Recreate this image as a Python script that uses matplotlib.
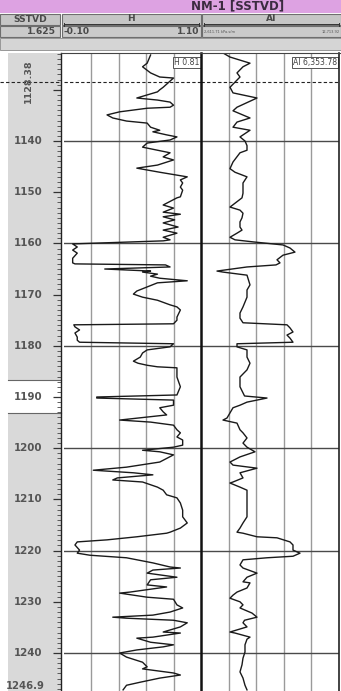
import matplotlib
matplotlib.use("Agg")
import matplotlib.pyplot as plt
from matplotlib.patches import Rectangle

# ---------------- data ----------------
well_name = "NM-1 [SSTVD]"
depth_scale = "1.625"
h_range = (-0.10, 1.10)
ai_range = (2611.71, 12713.92)
ai_unit = "kPa.s/m"
depth_range = (1122.81, 1247.42)
marker_depth = 1128.38
bottom_depth_label = "1246.9"
h_cursor = 0.81
ai_cursor = 6353.78
depth_labels = [1140, 1150, 1160, 1170, 1180, 1190, 1200, 1210, 1220, 1230, 1240]

h_depth = [
    1123.2, 1124.8, 1125.5, 1126.7, 1127.5, 1127.7, 1128.7, 1129.5, 1130.0, 1130.4,
    1131.0, 1131.6, 1132.0, 1132.4, 1133.0, 1133.4, 1133.6, 1134.3, 1134.9, 1135.5,
    1136.1, 1136.5, 1137.3, 1137.9, 1138.2, 1138.8, 1139.2, 1139.8, 1140.4, 1141.2,
    1141.8, 1142.3, 1143.1, 1143.7, 1144.7, 1145.3, 1146.1, 1147.0, 1147.6, 1148.2,
    1149.0, 1149.6, 1150.9, 1151.1, 1152.5, 1153.1, 1153.9, 1154.3, 1154.8, 1155.4,
    1156.0, 1156.8, 1157.4, 1158.0, 1158.8, 1159.3, 1159.5, 1160.1, 1160.7, 1161.3,
    1161.9, 1162.9, 1163.8, 1164.0, 1164.2, 1164.6, 1165.0, 1165.2, 1165.4, 1165.6,
    1166.0, 1166.4, 1166.8, 1167.3, 1167.7, 1168.5, 1169.3, 1169.9, 1170.5, 1171.1,
    1172.0, 1172.4, 1173.0, 1174.4, 1175.0, 1175.7, 1175.9, 1176.3, 1176.9, 1177.5,
    1178.3, 1178.9, 1179.3, 1179.6, 1180.2, 1180.8, 1181.4, 1182.2, 1183.0, 1183.4,
    1183.8, 1184.1, 1184.3, 1186.1, 1188.0, 1189.6, 1190.0, 1190.2, 1190.6, 1191.6,
    1192.1, 1192.9, 1193.5, 1194.5, 1194.9, 1195.5, 1196.4, 1197.0, 1197.8, 1198.4,
    1199.4, 1199.8, 1200.4, 1200.7, 1201.3, 1202.7, 1203.7, 1204.3, 1204.8, 1205.2,
    1205.8, 1206.2, 1206.6, 1207.6, 1208.2, 1209.1, 1209.7, 1210.7, 1212.1, 1213.4,
    1214.6, 1215.6, 1216.4, 1216.6, 1217.3, 1217.9, 1218.3, 1218.9, 1219.9, 1220.5,
    1220.9, 1221.4, 1222.4, 1223.2, 1223.4, 1223.8, 1224.4, 1225.2, 1225.7, 1226.7,
    1227.1, 1228.1, 1228.3, 1229.1, 1229.5, 1230.6, 1231.2, 1232.0, 1232.6, 1233.0,
    1233.2, 1233.6, 1234.1, 1234.9, 1235.9, 1236.1, 1236.9, 1237.1, 1237.9, 1238.4,
    1238.8, 1239.4, 1240.0, 1240.8, 1241.8, 1242.7, 1243.1, 1243.9, 1244.3, 1244.9,
    1245.7, 1246.3, 1247.2,
]
h_value = [
    0.66, 0.63, 0.59, 0.66, 0.74, 0.86, 0.81, 0.77, 0.74, 0.72,
    0.63, 0.54, 0.72, 0.83, 0.86, 0.83, 0.63, 0.39, 0.28, 0.33,
    0.45, 0.63, 0.66, 0.74, 0.68, 0.80, 0.89, 0.83, 0.63, 0.59,
    0.72, 0.83, 0.77, 0.86, 0.72, 0.54, 0.74, 0.98, 0.92, 0.94,
    0.92, 0.94, 0.92, 0.89, 0.77, 0.86, 0.77, 0.92, 0.77, 0.87,
    0.77, 0.90, 0.77, 0.89, 0.77, 0.83, 0.77, -0.02, 0.02, -0.02,
    0.02, -0.02, -0.02, 0.00, 0.79, 0.83, 0.26, 0.45, 0.66, 0.59,
    0.72, 0.66, 0.74, 0.98, 0.72, 0.63, 0.54, 0.51, 0.59, 0.72,
    0.83, 0.89, 0.92, 0.89, 0.89, 0.86, -0.01, 0.00, 0.04, 0.00,
    0.02, 0.02, 0.04, 0.86, 0.83, 0.63, 0.59, 0.57, 0.51, 0.55,
    0.63, 0.72, 0.89, 0.89, 0.92, 0.89, 0.19, 0.19, 0.86, 0.86,
    0.74, 0.77, 0.80, 0.39, 0.66, 0.86, 0.89, 0.92, 0.89, 0.94,
    0.94, 0.86, 0.59, 0.74, 0.86, 0.74, 0.45, 0.16, 0.51, 0.68,
    0.37, 0.33, 0.59, 0.72, 0.77, 0.80, 0.89, 0.92, 0.94, 0.94,
    0.98, 0.92, 0.83, 0.80, 0.54, 0.28, 0.02, 0.00, 0.04, 0.02,
    0.13, 0.45, 0.68, 0.83, 0.92, 0.68, 0.63, 0.89, 0.66, 0.63,
    0.80, 0.48, 0.39, 0.63, 0.86, 0.89, 0.94, 0.83, 0.68, 0.33,
    0.45, 0.86, 0.98, 0.92, 0.77, 0.92, 0.68, 0.54, 0.66, 0.86,
    0.77, 0.54, 0.39, 0.45, 0.59, 0.63, 0.59, 0.86, 0.92, 0.74,
    0.57, 0.45, 0.42,
]

ai_depth = [
    1122.8, 1123.6, 1124.8, 1125.5, 1126.7, 1127.5, 1129.5, 1130.6, 1131.6, 1133.4,
    1134.1, 1135.5, 1136.3, 1137.3, 1137.9, 1139.2, 1140.0, 1140.9, 1141.8, 1142.3,
    1144.1, 1145.4, 1146.1, 1147.0, 1148.2, 1150.2, 1151.1, 1152.9, 1153.5, 1154.1,
    1155.0, 1155.8, 1156.8, 1157.4, 1158.0, 1158.8, 1159.3, 1159.7, 1160.3, 1160.9,
    1161.7, 1162.3, 1163.2, 1163.8, 1164.2, 1164.6, 1165.4, 1165.6, 1166.2, 1168.1,
    1169.1, 1170.5, 1172.4, 1173.6, 1174.6, 1175.5, 1175.9, 1176.5, 1177.3, 1177.9,
    1178.5, 1179.3, 1179.6, 1180.2, 1180.8, 1182.2, 1183.4, 1184.7, 1186.1, 1188.0,
    1189.2, 1189.8, 1190.2, 1191.0, 1191.6, 1192.1, 1193.1, 1194.1, 1194.5, 1195.1,
    1196.4, 1197.0, 1198.0, 1199.0, 1199.8, 1200.7, 1201.7, 1202.7, 1203.3, 1203.9,
    1204.8, 1205.8, 1206.6, 1206.8, 1207.6, 1208.2, 1209.5, 1211.5, 1213.4, 1214.6,
    1215.6, 1216.4, 1216.6, 1217.3, 1217.5, 1218.3, 1218.9, 1219.9, 1220.5, 1221.1,
    1221.4, 1221.8, 1222.8, 1223.4, 1224.4, 1225.2, 1226.1, 1226.3, 1227.3, 1228.1,
    1228.7, 1229.3, 1230.0, 1230.6, 1231.2, 1232.2, 1233.0, 1233.6, 1234.1, 1234.9,
    1235.9, 1236.1, 1236.9, 1237.3, 1238.4, 1239.8, 1241.0, 1242.3, 1243.7, 1244.9,
    1246.3, 1247.2,
]
ai_value = [
    4222, 4734, 6198, 5686, 5247, 5466, 4734, 4954, 6711, 5247,
    4954, 6198, 5247, 4954, 6198, 5466, 5832, 5979, 5979, 5466,
    4954, 4734, 5100, 5979, 5686, 5686, 5613, 4734, 5466, 5686,
    5613, 5466, 5466, 5613, 5247, 4734, 5100, 6418, 8614, 9126,
    9492, 8614, 8175, 8394, 8100, 5979, 3783, 4222, 5979, 6198,
    5979, 5979, 5686, 5466, 5466, 5686, 8907, 9126, 9346, 8907,
    9126, 9346, 5247, 5247, 5979, 5979, 6198, 5979, 5466, 5466,
    5686, 5800, 7443, 5979, 5466, 4954, 4734, 4515, 4222, 5247,
    5466, 5686, 5979, 5686, 5979, 6564, 5466, 4734, 4954, 6711,
    5466, 5686, 4954, 4734, 5466, 5979, 5979, 5979, 5979, 5686,
    5466, 5247, 5686, 6711, 8175, 9126, 9346, 9346, 9858, 9346,
    7443, 5686, 5466, 5686, 6711, 5979, 5686, 6198, 5979, 5247,
    4954, 4734, 5466, 5686, 5466, 6345, 6711, 5800, 5686, 5979,
    4734, 5100, 6198, 5979, 5832, 5832, 5686, 5613, 5466, 5686,
    5832, 5979,
]

# ---------------- layout helpers ----------------
W, H = 341, 691
fig = plt.figure(figsize=(W / 100, H / 100), dpi=100)
plt.rcParams["font.family"] = ["DejaVu Sans"]


def box(x0, y0, x1, y1):
    return [x0 / W, 1 - y1 / H, (x1 - x0) / W, (y1 - y0) / H]


TOP, BOT = 53, 691
X_DEPTH_R, X_H_L, X_MID, X_AI_R = 61, 63.5, 201, 339

# background canvas in pixel units for header and fills
bg = fig.add_axes([0, 0, 1, 1])
bg.set_xlim(0, W)
bg.set_ylim(H, 0)
bg.axis("off")

# title bar
bg.add_patch(Rectangle((0, 0), W, 12.5, facecolor="#dda2e2", edgecolor="none"))
bg.text(238, 5.5, well_name, ha="center", va="center", fontsize=8.5,
        fontweight="bold", color="#3b2b40")

# header rows
cells = [(0, 60), (61.5, 200.5), (202, 341)]
for (xa, xb) in cells:
    bg.add_patch(Rectangle((xa, 13.5), xb - xa, 11.5, facecolor="#c6c6c6",
                           edgecolor="#6e6e6e", lw=0.8))
    bg.add_patch(Rectangle((xa, 26), xb - xa, 11, facecolor="#cacaca",
                           edgecolor="#6e6e6e", lw=0.8))
bg.add_patch(Rectangle((0, 38), W, 12, facecolor="#d5d5d5", edgecolor="#8a8a8a", lw=0.6))

bg.text(30, 19.5, "SSTVD", ha="center", va="center", fontsize=6.6,
        fontweight="bold", color="#4a4a4a")
bg.text(56, 31.5, depth_scale, ha="right", va="center", fontsize=6.6,
        fontweight="bold", color="#4a4a4a")
bg.text(131, 18.5, "H", ha="center", va="center", fontsize=6.6,
        fontweight="bold", color="#4a4a4a")
bg.text(271, 18.5, "AI", ha="center", va="center", fontsize=6.6,
        fontweight="bold", color="#4a4a4a")
for (xa, xb) in cells[1:]:
    bg.plot([xa + 2, xb - 2], [24, 24], color="#333333", lw=0.7)
    bg.plot([xa + 2, xa + 2], [22.5, 25.5], color="#333333", lw=0.7)
    bg.plot([xb - 2, xb - 2], [22.5, 25.5], color="#333333", lw=0.7)
bg.text(63.5, 31.5, f"{h_range[0]:.2f}", ha="left", va="center", fontsize=6.6,
        fontweight="bold", color="#4a4a4a")
bg.text(199, 31.5, f"{h_range[1]:.2f}", ha="right", va="center", fontsize=6.6,
        fontweight="bold", color="#4a4a4a")
bg.text(203.5, 31.5, f"{ai_range[0]:,.2f} {ai_unit}", ha="left", va="center",
        fontsize=2.6, color="#555555")
bg.text(339.5, 31.5, f"{ai_range[1]:,.2f}", ha="right", va="center",
        fontsize=2.6, color="#555555")

# depth track shading (with the light break around 1190)
bg.add_patch(Rectangle((8, TOP), X_DEPTH_R - 8, 380 - TOP, facecolor="#d9d9d9",
                       edgecolor="none"))
bg.add_patch(Rectangle((8, 413), X_DEPTH_R - 8, BOT - 413, facecolor="#d9d9d9",
                       edgecolor="none"))
bg.plot([8, X_DEPTH_R], [380, 380], color="#666666", lw=0.8)
bg.plot([8, X_DEPTH_R], [413, 413], color="#666666", lw=0.8)

# ---------------- depth track ----------------
axd = fig.add_axes(box(0, TOP, X_DEPTH_R, BOT))
axd.set_facecolor("none")
axd.set_ylim(depth_range[1], depth_range[0])
axd.set_xlim(0, 1)
for s in ("left", "top", "bottom"):
    axd.spines[s].set_visible(False)
axd.spines["right"].set_color("#222222")
axd.spines["right"].set_linewidth(1.0)
axd.yaxis.tick_right()
axd.set_yticks(range(1130, 1250, 10))
axd.set_yticks(range(1123, 1248), minor=True)
axd.tick_params(axis="y", which="major", direction="in", length=6, width=0.9,
                color="#333333", labelright=False)
axd.tick_params(axis="y", which="minor", direction="in", length=3, width=0.6,
                color="#444444")
axd.set_xticks([])
for d in depth_labels:
    axd.text(0.46, d, str(d), ha="center", va="center", fontsize=7.4,
             fontweight="bold", color="#555555", transform=axd.get_yaxis_transform())
axd.text(0.42, 1246.5, bottom_depth_label, ha="center", va="center", fontsize=7.2,
         fontweight="bold", color="#555555", transform=axd.get_yaxis_transform())
axd.text(0.46, marker_depth, f"{marker_depth:.2f}", ha="center", va="center",
         rotation=90, fontsize=6.8, fontweight="bold", color="#555555",
         transform=axd.get_yaxis_transform())
axd.axhline(marker_depth, color="#222222", lw=0.8, ls=(0, (3, 2)))


def style_track(ax, xlim, grid):
    ax.set_xlim(*xlim)
    ax.set_ylim(depth_range[1], depth_range[0])
    ax.set_xticks([])
    ax.set_yticks([])
    for g in grid:
        ax.axvline(g, color="#9a9a9a", lw=1.0, zorder=1)
    for d in range(1140, 1250, 20):
        ax.axhline(d, color="#4a4a4a", lw=1.0, zorder=1)
    ax.axhline(marker_depth, color="#222222", lw=0.8, ls=(0, (3, 2)), zorder=2)
    for s in ax.spines.values():
        s.set_visible(False)


# ---------------- H track ----------------
axh = fig.add_axes(box(X_H_L, TOP, X_MID, BOT))
step_h = (h_range[1] - h_range[0]) / 5
style_track(axh, h_range, [h_range[0] + k * step_h for k in range(1, 5)])
axh.plot(h_value, h_depth, color="#1a1a1a", lw=1.0, zorder=3)
axh.text(0.99, 0.985, f"H {h_cursor:.2f}", transform=axh.transAxes, ha="right",
         va="center", fontsize=5.6, color="#444444", zorder=5,
         bbox=dict(boxstyle="square,pad=0.15", fc="white", ec="#555555", lw=0.7))

# ---------------- AI track ----------------
axa = fig.add_axes(box(X_MID, TOP, X_AI_R, BOT))
step_a = (ai_range[1] - ai_range[0]) / 5
style_track(axa, ai_range, [ai_range[0] + k * step_a for k in range(1, 5)])
axa.plot(ai_value, ai_depth, color="#1a1a1a", lw=1.0, zorder=3)
axa.text(0.985, 0.985, f"AI {ai_cursor:,.2f}", transform=axa.transAxes, ha="right",
         va="center", fontsize=5.6, color="#444444", zorder=5,
         bbox=dict(boxstyle="square,pad=0.15", fc="white", ec="#555555", lw=0.7))

# track borders
bg2 = fig.add_axes([0, 0, 1, 1])
bg2.set_xlim(0, W)
bg2.set_ylim(H, 0)
bg2.axis("off")
bg2.plot([X_MID, X_MID], [TOP, BOT], color="#111111", lw=1.8)
bg2.plot([X_AI_R, X_AI_R], [TOP, BOT], color="#222222", lw=1.2)
bg2.plot([X_DEPTH_R, W], [TOP, TOP], color="#444444", lw=0.8)

fig.savefig("out.png", dpi=100)
